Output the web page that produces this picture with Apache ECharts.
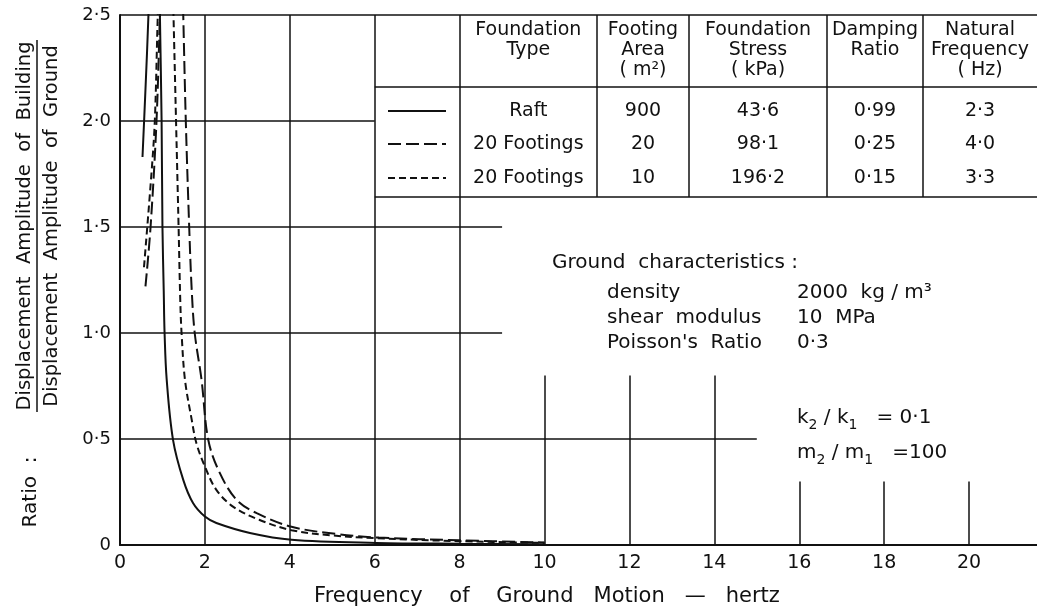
<!DOCTYPE html>
<html>
<head>
<meta charset="utf-8">
<script src="https://cdn.jsdelivr.net/npm/echarts@6/dist/echarts.min.js"></script>
<style>
  html, body { margin: 0; padding: 0; background: #fff; }
  #chart { width: 1037px; height: 613px; }
</style>
</head>
<body>
<div id="chart"></div>
<script>
// curves [frequency (Hz), ratio]; points above 2.5 are clipped
var raft = [[0.53, 1.83], [0.6, 2.15], [0.67, 2.5], [0.71, 2.8], [0.915, 2.85], [0.94, 2.5], [0.98, 2.0], [1.0, 1.5],
  [1.03, 1.2], [1.05, 1.0], [1.1, 0.78], [1.25, 0.495], [1.49, 0.307], [1.72, 0.198], [2.0, 0.134], [2.27, 0.104],
  [3.06, 0.057], [4.04, 0.025], [6.04, 0.01], [8, 0.006], [10, 0.004]];
var footings20 = [[0.6, 1.22], [0.72, 1.5], [0.86, 2.0], [0.94, 2.5], [0.99, 2.85], [1.45, 2.85], [1.49, 2.5],
  [1.55, 2.0], [1.63, 1.5], [1.69, 1.2], [1.76, 1.0], [1.92, 0.78], [2.08, 0.495], [2.35, 0.34], [2.75, 0.212],
  [3.22, 0.15], [4.04, 0.086], [5.1, 0.052], [6.1, 0.035], [8, 0.022], [10, 0.012]];
var footings10 = [[0.565, 1.31], [0.74, 1.75], [0.82, 2.0], [0.89, 2.5], [0.95, 2.85], [1.22, 2.85], [1.26, 2.5],
  [1.32, 2.0], [1.38, 1.5], [1.42, 1.15], [1.45, 1.0], [1.53, 0.78], [1.69, 0.59], [1.8, 0.48], [2.0, 0.37],
  [2.27, 0.26], [2.67, 0.18], [3.29, 0.118], [4.04, 0.07], [5.0, 0.045], [6.04, 0.032], [8, 0.018], [10, 0.01]];

// partial grid lines of the original drawing
var hGrid = [[2.5, 21.6], [2.0, 6], [1.5, 9], [1.0, 9], [0.5, 15]]; // [y, x end]
var vGrid = [[2, 2.5], [4, 2.5], [6, 2.5], [8, 2.5], [10, 0.8], [12, 0.8], [14, 0.8], [16, 0.3], [18, 0.3], [20, 0.3]]; // [x, y top]

// table
var tableHeaders = ['Foundation\nType', 'Footing\nArea\n( m²)', 'Foundation\nStress\n( kPa)', 'Damping\nRatio', 'Natural\nFrequency\n( Hz)'];
var tableRows = [
  ['Raft', '900', '43·6', '0·99', '2·3'],
  ['20 Footings', '20', '98·1', '0·25', '4·0'],
  ['20 Footings', '10', '196·2', '0·15', '3·3']
];
var rowDash = [null, [13, 5], [7, 4]];

var groundLabels = ['density', 'shear  modulus', "Poisson's  Ratio"];
var groundValues = ['2000  kg / m³', '10  MPa', '0·3'];
var ratioNotes = ['{n|k}{s|2}{n| / k}{s|1}{n|   = 0·1}', '{n|m}{s|2}{n| / m}{s|1}{n|   =100}'];

var FONT = 'DejaVu Sans';
var INK = '#111';

var myChart = echarts.init(document.getElementById('chart'));

var gridLines = [];
hGrid.forEach(function (g) {
  gridLines.push([{ coord: [0, g[0]] }, { coord: [g[1], g[0]] }]);
});
vGrid.forEach(function (g) {
  gridLines.push([{ coord: [g[0], 0] }, { coord: [g[0], g[1]] }]);
});

var curveStyle = function (dash) {
  return { color: INK, width: 2, type: dash };
};

var option = {
  backgroundColor: '#fff',
  animation: false,
  grid: { left: 120, right: 0, top: 15, bottom: 68 },
  xAxis: {
    type: 'value', min: 0, max: 21.6, interval: 2,
    axisLine: { lineStyle: { color: INK, width: 2 } },
    axisTick: { show: false },
    splitLine: { show: false },
    axisLabel: { color: INK, fontFamily: FONT, fontSize: 19, margin: 9, showMaxLabel: false }
  },
  yAxis: {
    type: 'value', min: 0, max: 2.5, interval: 0.5,
    axisLine: { show: true, lineStyle: { color: INK, width: 2 } },
    axisTick: { show: false },
    splitLine: { show: false },
    axisLabel: {
      color: INK, fontFamily: FONT, fontSize: 18, margin: 9,
      formatter: function (v) { return v === 0 ? '0' : v.toFixed(1).replace('.', '·'); }
    }
  },
  series: [
    {
      type: 'line', data: [], silent: true,
      markLine: {
        silent: true, symbol: 'none', label: { show: false },
        lineStyle: { color: INK, width: 1.5, type: 'solid' },
        data: gridLines
      }
    },
    { name: 'Raft', type: 'line', data: raft, symbol: 'none', smooth: 0.35, lineStyle: curveStyle('solid') },
    { name: '20 Footings (20 m²)', type: 'line', data: footings20, symbol: 'none', smooth: 0.35, lineStyle: curveStyle([13, 5]) },
    { name: '20 Footings (10 m²)', type: 'line', data: footings10, symbol: 'none', smooth: 0.35, lineStyle: curveStyle([7, 4]) }
  ]
};

myChart.setOption(option);

// table and notes, laid against the axes
var px = function (x, y) { return myChart.convertToPixel({ gridIndex: 0 }, [x, y]); };
var left6 = px(6, 0)[0], left8 = px(8, 0)[0], topY = px(0, 2.5)[1];
var colX = [left6, left8, 597, 689, 827, 923, 1037];
var tHead = 87, tBottom = 197;
var rowY = [111, 144, 178];

var graphics = [];
graphics.push({ type: 'line', shape: { x1: colX[0], y1: tHead, x2: colX[6], y2: tHead }, style: { stroke: INK, lineWidth: 1.5 } });
graphics.push({ type: 'line', shape: { x1: colX[0], y1: tBottom, x2: colX[6], y2: tBottom }, style: { stroke: INK, lineWidth: 1.5 } });
for (var c = 2; c < 6; c++) {
  graphics.push({ type: 'line', shape: { x1: colX[c], y1: topY, x2: colX[c], y2: tBottom }, style: { stroke: INK, lineWidth: 1.5 } });
}
tableHeaders.forEach(function (h, i) {
  graphics.push({
    type: 'text', x: (colX[i + 1] + colX[i + 2]) / 2, y: 20,
    style: { text: h, font: '19px ' + FONT, fill: INK, align: 'center', verticalAlign: 'top', lineHeight: 20 }
  });
});
tableRows.forEach(function (r, j) {
  r.forEach(function (v, i) {
    graphics.push({
      type: 'text', x: (colX[i + 1] + colX[i + 2]) / 2, y: rowY[j],
      style: { text: v, font: '19px ' + FONT, fill: INK, align: 'center', verticalAlign: 'middle' }
    });
  });
  graphics.push({
    type: 'line', shape: { x1: 388, y1: rowY[j], x2: 446, y2: rowY[j] },
    style: { stroke: INK, lineWidth: 2, lineDash: rowDash[j] }
  });
});

graphics.push({ type: 'text', x: 552, y: 263, style: { text: 'Ground  characteristics :', font: '20px ' + FONT, fill: INK, verticalAlign: 'middle' } });
groundLabels.forEach(function (t, i) {
  graphics.push({ type: 'text', x: 607, y: 293 + i * 25, style: { text: t, font: '20px ' + FONT, fill: INK, verticalAlign: 'middle' } });
  graphics.push({ type: 'text', x: 797, y: 293 + i * 25, style: { text: groundValues[i], font: '20px ' + FONT, fill: INK, verticalAlign: 'middle' } });
});
ratioNotes.forEach(function (t, i) {
  graphics.push({
    type: 'text', x: 797, y: 418 + i * 35,
    style: {
      text: t, fill: INK, verticalAlign: 'middle',
      rich: {
        n: { fontFamily: FONT, fontSize: 20, lineHeight: 28, verticalAlign: 'middle', fill: INK },
        s: { fontFamily: FONT, fontSize: 14, lineHeight: 14, verticalAlign: 'bottom', fill: INK }
      }
    }
  });
});

graphics.push({ type: 'text', x: 547, y: 597, style: { text: 'Frequency    of    Ground   Motion   —   hertz', font: '21px ' + FONT, fill: INK, align: 'center', verticalAlign: 'middle' } });
graphics.push({ type: 'text', x: 25, y: 226, rotation: Math.PI / 2, style: { text: 'Displacement  Amplitude  of  Building', font: '19.5px ' + FONT, fill: INK, align: 'center', verticalAlign: 'middle' } });
graphics.push({ type: 'line', shape: { x1: 37, y1: 40, x2: 37, y2: 412 }, style: { stroke: INK, lineWidth: 1.5 } });
graphics.push({ type: 'text', x: 52, y: 226, rotation: Math.PI / 2, style: { text: 'Displacement  Amplitude  of  Ground', font: '19.5px ' + FONT, fill: INK, align: 'center', verticalAlign: 'middle' } });
graphics.push({ type: 'text', x: 31, y: 492, rotation: Math.PI / 2, style: { text: 'Ratio  :', font: '20px ' + FONT, fill: INK, align: 'center', verticalAlign: 'middle' } });

myChart.setOption({ graphic: graphics });
</script>
</body>
</html>
